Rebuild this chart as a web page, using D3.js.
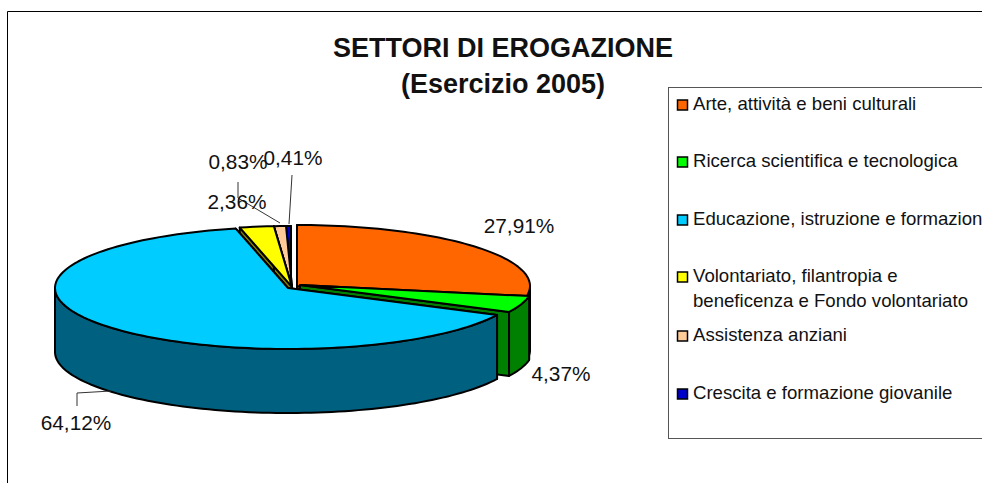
<!DOCTYPE html>
<html>
<head>
<meta charset="utf-8">
<script src="https://cdn.jsdelivr.net/npm/d3@7"></script>
<style>
  html, body { margin: 0; padding: 0; background: #fff; overflow: hidden; }
  svg { display: block; }
  text { font-family: "Liberation Sans", Arial, sans-serif; fill: #111; }
</style>
</head>
<body>
<svg width="982" height="483"></svg>
<script>
// values
const categories = [
  'Arte, attività e beni culturali',
  'Ricerca scientifica e tecnologica',
  'Educazione, istruzione e formazione',
  'Volontariato, filantropia e|beneficenza e Fondo volontariato',
  'Assistenza anziani',
  'Crescita e formazione giovanile'
];
const values = [27.91, 4.37, 64.12, 2.36, 0.83, 0.41];
const titleLines = ['SETTORI DI EROGAZIONE', '(Esercizio 2005)'];
const topColors = ['#ff6600', '#00ff00', '#00ccff', '#ffff00', '#ffcc99', '#0000cc'];
const wallColors = ['#803300', '#008000', '#006080', '#808000', '#806650', '#000066'];

// layout of the exploded slices, same order as values
const centers = [[297, 286], [300, 285], [288, 288], [292, 287], [292, 287], [291, 287]];
const rx = 233, ry = 61, depth = 64;
const drawOrder = [5, 4, 3, 0, 1, 2];
const labelPos = [[519, 233], [561, 381], [76, 430], [237, 209], [238, 169], [293, 165]];
const leaders = [
  null, null,
  [[77, 406], [77, 393], [111, 391]],
  null,
  [[238, 182], [238, 198], [280, 223]],
  [[292, 175], [289, 224]]
];
const legendY = [105, 162, 220, 277, 336, 394];

const svg = d3.select('svg');

// chart frame, runs off the right and bottom of the picture
svg.append('path')
  .attr('d', 'M7.5,483V11.5H982')
  .attr('fill', 'none')
  .attr('stroke', '#000');

// pie layout, no sorting so slices stay in the sheet order
const slices = d3.pie().sort(null).value(d => d)(values);

const line = d3.line();
const project = (i, a) => [
  centers[i][0] + rx * Math.sin(a),
  centers[i][1] - ry * Math.cos(a)
];
const down = p => [p[0], p[1] + depth];
const arcPoints = (i, a0, a1) => {
  const n = Math.max(2, Math.ceil((a1 - a0) / 0.03));
  return d3.range(n + 1).map(k => project(i, a0 + (a1 - a0) * k / n));
};

const pieG = svg.append('g')
  .attr('stroke', '#000')
  .attr('stroke-width', 2)
  .attr('stroke-linejoin', 'round');

drawOrder.forEach(i => {
  const s = slices[i];
  const apex = centers[i];

  // the two cut faces
  [s.startAngle, s.endAngle].forEach(a => {
    const rim = project(i, a);
    pieG.append('path')
      .attr('d', line([apex, rim, down(rim), down(apex)]) + 'Z')
      .attr('fill', wallColors[i]);
  });

  // outer wall, only the front half of the rim can be seen
  const w0 = Math.max(s.startAngle, Math.PI / 2);
  const w1 = Math.min(s.endAngle, Math.PI * 1.5);
  if (w1 > w0) {
    const rim = arcPoints(i, w0, w1);
    pieG.append('path')
      .attr('d', line(rim.concat(rim.map(down).reverse())) + 'Z')
      .attr('fill', wallColors[i]);
  }

  // top face
  pieG.append('path')
    .attr('d', line([apex].concat(arcPoints(i, s.startAngle, s.endAngle))) + 'Z')
    .attr('fill', topColors[i]);
});

// leader lines
leaders.forEach(pts => {
  if (!pts) return;
  svg.append('path')
    .attr('d', line(pts))
    .attr('fill', 'none')
    .attr('stroke', '#333')
    .attr('stroke-width', 1);
});

// value labels
svg.selectAll('text.value')
  .data(values)
  .join('text')
  .attr('class', 'value')
  .attr('x', (d, i) => labelPos[i][0])
  .attr('y', (d, i) => labelPos[i][1])
  .attr('text-anchor', 'middle')
  .attr('font-size', 20.8)
  .text(d => d.toFixed(2).replace('.', ',') + '%');

// title
svg.selectAll('text.title')
  .data(titleLines)
  .join('text')
  .attr('class', 'title')
  .attr('x', 503)
  .attr('y', (d, i) => 57 + i * 36)
  .attr('text-anchor', 'middle')
  .attr('font-size', 27)
  .attr('font-weight', 'bold')
  .text(d => d);

// legend box, also cut by the picture edge
svg.append('rect')
  .attr('x', 668.5).attr('y', 87.5)
  .attr('width', 340).attr('height', 351)
  .attr('fill', '#fff')
  .attr('stroke', '#555');

const legend = svg.selectAll('g.legend')
  .data(categories)
  .join('g')
  .attr('class', 'legend')
  .attr('transform', (d, i) => `translate(677,${legendY[i]})`);

legend.append('rect')
  .attr('x', 0.5).attr('y', -5)
  .attr('width', 10).attr('height', 10)
  .attr('fill', (d, i) => topColors[i])
  .attr('stroke', '#000')
  .attr('stroke-width', 1.5);

legend.each(function (d) {
  d.split('|').forEach((t, k) => {
    d3.select(this).append('text')
      .attr('x', 16)
      .attr('y', 5 + k * 25)
      .attr('font-size', 18.6)
      .text(t);
  });
});
</script>
</body>
</html>
